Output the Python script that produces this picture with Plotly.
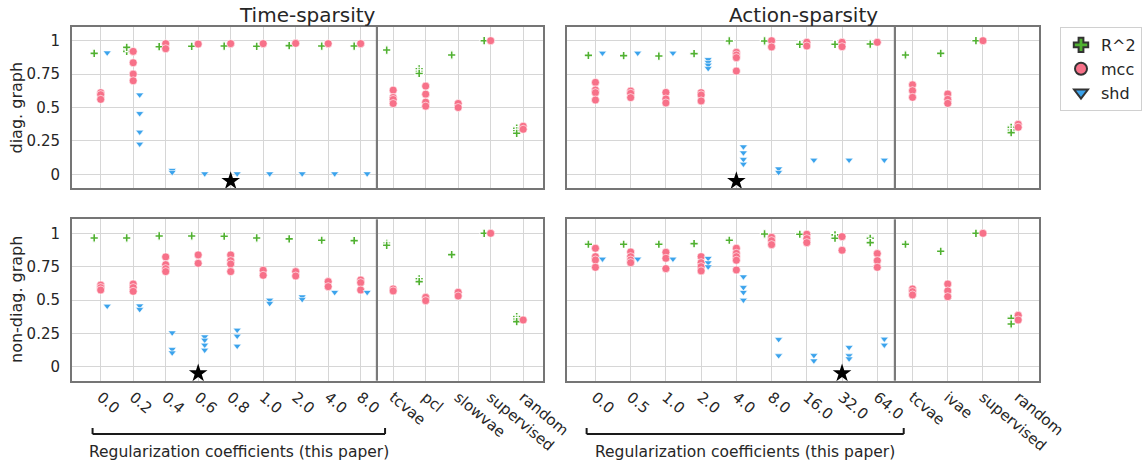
import plotly.graph_objects as go

W, H = 1146, 462

TS_CATS = ["0.0", "0.2", "0.4", "0.6", "0.8", "1.0", "2.0", "4.0", "8.0",
           "tcvae", "pcl", "slowvae", "supervised", "random"]
AS_CATS = ["0.0", "0.5", "1.0", "2.0", "4.0", "8.0", "16.0", "32.0", "64.0",
           "tcvae", "ivae", "supervised", "random"]
Y_TICKS = [0, 0.25, 0.5, 0.75, 1]
Y_TICK_TEXT = ["0", "0.25", "0.5", "0.75", "1"]
PANEL_TITLES = ["Time-sparsity", "Action-sparsity"]
ROW_TITLES = ["diag. graph", "non-diag. graph"]
BRACKET_TEXT = "Regularization coefficients (this paper)"

# Time-sparsity, diagonal graph
TS_DIAG_R2 = [[0.91, 0.905], [0.93, 0.92, 0.95], [0.958, 0.955], [0.958], [0.96], [0.958],
              [0.963], [0.96], [0.96], [0.93], [0.79, 0.77, 0.755], [0.893], [1.0],
              [0.345, 0.325, 0.307]]
TS_DIAG_MCC = [[0.611, 0.596, 0.561], [0.92, 0.835, 0.75, 0.70], [0.978, 0.94], [0.975],
               [0.978], [0.978], [0.98], [0.978], [0.978], [0.63, 0.575, 0.56, 0.53],
               [0.66, 0.60, 0.54, 0.51], [0.53, 0.50], [1.0], [0.36, 0.337]]
TS_DIAG_SHD = [[0.91], [0.595, 0.456, 0.317, 0.227], [0.03, 0.015], [0.005], [0.005],
               [0.005], [0.005], [0.005], [0.005], [], [], [], [], []]

# Action-sparsity, diagonal graph
AS_DIAG_R2 = [[0.89], [0.888], [0.885], [0.903], [0.998], [0.998], [0.973], [0.973],
              [0.975], [0.893], [0.905], [1.0], [0.352, 0.33, 0.312]]
AS_DIAG_MCC = [[0.688, 0.631, 0.611, 0.556], [0.623, 0.606, 0.574], [0.613, 0.564, 0.534],
               [0.611, 0.594, 0.549], [0.913, 0.893, 0.873, 0.773], [1.0, 0.953],
               [0.988, 0.96], [0.988, 0.955], [0.988], [0.67, 0.626, 0.576],
               [0.601, 0.561, 0.531], [1.0], [0.374, 0.352]]
AS_DIAG_SHD = [[0.908], [0.908], [0.908], [0.86, 0.838, 0.818, 0.793],
               [0.207, 0.162, 0.112, 0.077], [0.042, 0.015], [0.107], [0.107], [0.107],
               [], [], [], []]

# Time-sparsity, non-diagonal graph
TS_NDIAG_R2 = [[0.965], [0.965], [0.98], [0.98], [0.978], [0.965], [0.958], [0.948],
               [0.945], [0.925, 0.91], [0.658, 0.638], [0.84], [1.0],
               [0.375, 0.355, 0.338]]
TS_NDIAG_MCC = [[0.612, 0.593, 0.575], [0.62, 0.593, 0.565], [0.823, 0.765, 0.735, 0.713],
                [0.838, 0.775], [0.838, 0.795, 0.77, 0.713], [0.723, 0.685], [0.713, 0.68],
                [0.638, 0.6], [0.65, 0.63, 0.575], [0.583, 0.568], [0.52, 0.495],
                [0.558, 0.53], [1.0], [0.35]]
TS_NDIAG_SHD = [[0.455], [0.457, 0.43], [0.255, 0.13, 0.105], [0.225, 0.2, 0.163, 0.125],
                [0.275, 0.23, 0.155], [0.5, 0.475], [0.525, 0.505], [0.558], [0.558],
                [], [], [], [], []]

# Action-sparsity, non-diagonal graph
AS_NDIAG_R2 = [[0.918], [0.918], [0.918], [0.923], [0.948], [0.995], [0.993],
               [0.988, 0.963], [0.963, 0.93], [0.918], [0.865], [1.0], [0.363, 0.32]]
AS_NDIAG_MCC = [[0.888, 0.825, 0.8, 0.745], [0.86, 0.825, 0.8, 0.78], [0.858, 0.813, 0.735],
                [0.825, 0.78, 0.75, 0.718], [0.888, 0.85, 0.825, 0.798, 0.725],
                [0.97, 0.945, 0.915], [0.993, 0.96, 0.93], [0.975, 0.873],
                [0.848, 0.795, 0.745], [0.583, 0.563, 0.538], [0.62, 0.568, 0.525],
                [1.0], [0.385, 0.35]]
AS_NDIAG_SHD = [[0.808], [0.808], [0.808], [0.813, 0.78, 0.75], [0.675, 0.595, 0.558, 0.5],
                [0.205, 0.083], [0.085, 0.045], [0.145, 0.083, 0.06], [0.208, 0.163],
                [], [], [], []]

# selected coefficient (star) per panel: index into categories
STAR_IDX = [4, 4, 3, 7]
STAR_Y = -0.05

METRICS = ["R^2", "mcc", "shd"]
COLORS = {"R^2": "#50b131", "mcc": "#f77189", "shd": "#3ba3ec"}
SYMBOLS = {"R^2": "cross", "mcc": "circle", "shd": "triangle-down"}
SIZES = {"R^2": 7, "mcc": 8, "shd": 7}
EDGE = {"R^2": 1.2, "mcc": 0.6, "shd": 0.6}
OFFSETS = {"R^2": -0.2, "mcc": 0.0, "shd": 0.2}

FONT = "DejaVu Sans"
TXT = "#262626"


def px_x(p):
    return p / W


def px_y(p):
    return 1 - p / H


panels = [
    dict(cats=TS_CATS, data=[TS_DIAG_R2, TS_DIAG_MCC, TS_DIAG_SHD], xa="x", ya="y"),
    dict(cats=AS_CATS, data=[AS_DIAG_R2, AS_DIAG_MCC, AS_DIAG_SHD], xa="x2", ya="y2"),
    dict(cats=TS_CATS, data=[TS_NDIAG_R2, TS_NDIAG_MCC, TS_NDIAG_SHD], xa="x3", ya="y3"),
    dict(cats=AS_CATS, data=[AS_NDIAG_R2, AS_NDIAG_MCC, AS_NDIAG_SHD], xa="x4", ya="y4"),
]

fig = go.Figure()

for pi, p in enumerate(panels):
    for metric, series in zip(METRICS, p["data"]):
        xs, ys = [], []
        for i, vals in enumerate(series):
            for v in vals:
                xs.append(i + OFFSETS[metric])
                ys.append(v)
        fig.add_trace(go.Scatter(
            x=xs, y=ys, mode="markers", xaxis=p["xa"], yaxis=p["ya"],
            marker=dict(symbol=SYMBOLS[metric], size=SIZES[metric], color=COLORS[metric],
                        line=dict(color="white", width=EDGE[metric])),
            showlegend=False, name=metric))
    fig.add_trace(go.Scatter(
        x=[STAR_IDX[pi]], y=[STAR_Y], mode="markers", xaxis=p["xa"], yaxis=p["ya"],
        marker=dict(symbol="star", size=14, color="black", line=dict(width=0)),
        showlegend=False, cliponaxis=False))

# legend-only traces
for metric in METRICS:
    fig.add_trace(go.Scatter(
        x=[None], y=[None], mode="markers", name=metric,
        marker=dict(symbol=SYMBOLS[metric], size=13, color=COLORS[metric],
                    line=dict(color="#333333", width=1))))

# geometry (pixels)
X_DOM = [(72, 543), (567, 1039)]
Y_DOM = [(27, 188), (219.3, 380.7)]
X_RANGE = [[-0.883, 13.61], [-0.807, 12.59]]
Y_RANGE = [[-0.1025, 1.1025], [-0.105, 1.105]]

layout = dict(
    width=W, height=H, margin=dict(l=0, r=0, t=0, b=0, autoexpand=False),
    paper_bgcolor="white", plot_bgcolor="white",
    font=dict(family=FONT, color=TXT, size=15),
    legend=dict(x=px_x(1142), y=px_y(27), xanchor="right", yanchor="top",
                bgcolor="white", bordercolor="#d0d0d0", borderwidth=1,
                font=dict(size=16, family=FONT, color=TXT), itemsizing="constant",
                tracegroupgap=0),
    showlegend=True,
)

for pi, p in enumerate(panels):
    row, col = divmod(pi, 2)
    n = len(p["cats"])
    xname = "xaxis" if pi == 0 else f"xaxis{pi + 1}"
    yname = "yaxis" if pi == 0 else f"yaxis{pi + 1}"
    layout[xname] = dict(
        domain=[px_x(X_DOM[col][0]), px_x(X_DOM[col][1])],
        range=X_RANGE[col], anchor=p["ya"],
        tickmode="array", tickvals=list(range(n)), ticktext=p["cats"],
        showticklabels=(row == 1), tickangle=40,
        tickfont=dict(size=15, family=FONT, color=TXT),
        showgrid=True, gridcolor="#d6d6d6", gridwidth=1.3,
        zeroline=False, showline=True, linecolor="#757575", linewidth=2, mirror=True,
        ticks="", fixedrange=True,
    )
    layout[yname] = dict(
        domain=[px_y(Y_DOM[row][1]), px_y(Y_DOM[row][0])],
        range=Y_RANGE[row], anchor=p["xa"],
        tickmode="array", tickvals=Y_TICKS, ticktext=Y_TICK_TEXT,
        showticklabels=(col == 0), ticklabelstandoff=7,
        tickfont=dict(size=15, family=FONT, color=TXT),
        showgrid=True, gridcolor="#d6d6d6", gridwidth=1.3,
        zeroline=False, showline=True, linecolor="#757575", linewidth=2, mirror=True,
        ticks="", fixedrange=True,
    )

shapes = []
annotations = []
for pi, p in enumerate(panels):
    row, col = divmod(pi, 2)
    # divider between this paper's coefficients and baselines
    shapes.append(dict(type="line", xref=p["xa"], yref=f"{p['ya']} domain",
                       x0=8.5, x1=8.5, y0=0, y1=1,
                       line=dict(color="#7a7a7a", width=2.2)))
    if row == 1:
        # bracket below coefficient tick labels
        yb = px_y(434)
        yt = px_y(428)
        shapes.append(dict(type="line", xref=p["xa"], yref="paper",
                           x0=-0.25, x1=8.75, y0=yb, y1=yb,
                           line=dict(color="#1a1a1a", width=2)))
        for xe in (-0.25, 8.75):
            shapes.append(dict(type="line", xref=p["xa"], yref="paper",
                               x0=xe, x1=xe, y0=yb, y1=yt,
                               line=dict(color="#1a1a1a", width=2)))
        annotations.append(dict(text=BRACKET_TEXT, xref=p["xa"], yref="paper",
                                x=4.25, y=px_y(452), xanchor="center", yanchor="middle",
                                showarrow=False, font=dict(size=15.5, family=FONT, color=TXT)))
    else:
        annotations.append(dict(text=PANEL_TITLES[col], xref=f"{p['xa']} domain",
                                yref="paper", x=0.5, y=px_y(15), xanchor="center",
                                yanchor="middle", showarrow=False,
                                font=dict(size=20, family=FONT, color=TXT)))
    if col == 0:
        yc = (Y_DOM[row][0] + Y_DOM[row][1]) / 2
        annotations.append(dict(text=ROW_TITLES[row], xref="paper", yref="paper",
                                x=px_x(16), y=px_y(yc), xanchor="center",
                                yanchor="middle", textangle=-90, showarrow=False,
                                font=dict(size=16, family=FONT, color=TXT)))

layout["shapes"] = shapes
layout["annotations"] = annotations
fig.update_layout(**layout)

fig.write_html("out.html", config={"displayModeBar": False},
               post_script="document.body.style.margin='0';document.body.style.overflow='hidden';")
